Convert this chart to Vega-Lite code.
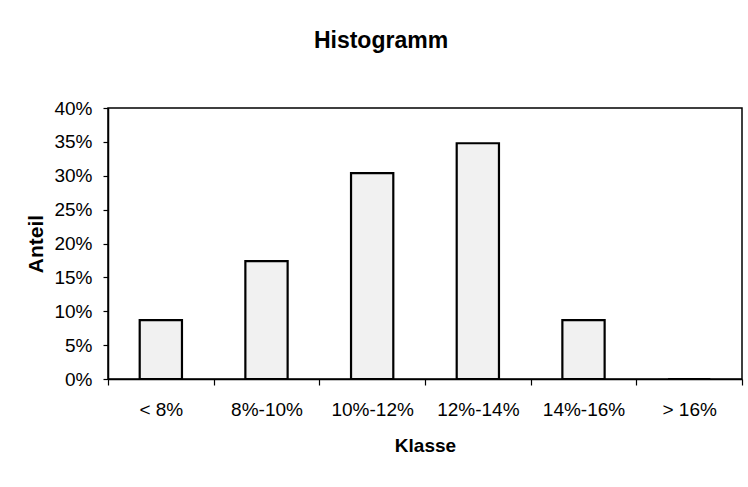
{
  "$schema": "https://vega.github.io/schema/vega-lite/v6.json",
  "width": 634,
  "height": 271,
  "autosize": {"type": "none"},
  "padding": {"left": 108, "top": 108, "right": 6, "bottom": 108},
  "background": "white",
  "title": {
    "text": "Histogramm",
    "font": "Liberation Sans",
    "fontSize": 23,
    "fontWeight": "bold",
    "color": "black",
    "anchor": "middle",
    "frame": "group",
    "dx": -44,
    "offset": 46
  },
  "data": {
    "values": [
      {"Klasse": "< 8%", "Anteil": 0.087},
      {"Klasse": "8%-10%", "Anteil": 0.174},
      {"Klasse": "10%-12%", "Anteil": 0.304},
      {"Klasse": "12%-14%", "Anteil": 0.348},
      {"Klasse": "14%-16%", "Anteil": 0.087},
      {"Klasse": "> 16%", "Anteil": 0}
    ]
  },
  "mark": {
    "type": "bar",
    "width": {"band": 0.4},
    "fill": "#f1f1f1",
    "stroke": "black",
    "strokeWidth": 2.2
  },
  "encoding": {
    "x": {
      "field": "Klasse",
      "type": "nominal",
      "sort": null,
      "scale": {"paddingInner": 0, "paddingOuter": 0},
      "axis": {
        "title": "Klasse",
        "labelAngle": 0,
        "tickBand": "extent",
        "tickSize": 6,
        "labelPadding": 15,
        "titlePadding": 17,
        "titleFontSize": 19
      }
    },
    "y": {
      "field": "Anteil",
      "type": "quantitative",
      "scale": {"domain": [0, 0.4], "nice": false},
      "axis": {
        "title": "Anteil",
        "titleFontSize": 21,
        "values": [0, 0.05, 0.1, 0.15, 0.2, 0.25, 0.3, 0.35, 0.4],
        "format": ".0%",
        "grid": false,
        "tickSize": 5,
        "labelPadding": 11,
        "titlePadding": 7
      }
    }
  },
  "config": {
    "font": "Liberation Sans",
    "view": {"stroke": "black", "strokeWidth": 1.5},
    "axis": {
      "domainColor": "black",
      "domainWidth": 1.5,
      "tickColor": "black",
      "tickWidth": 1.2,
      "labelFont": "Liberation Sans",
      "labelFontSize": 19,
      "labelColor": "black",
      "titleFont": "Liberation Sans",
      "titleFontWeight": "bold",
      "titleColor": "black"
    }
  }
}
